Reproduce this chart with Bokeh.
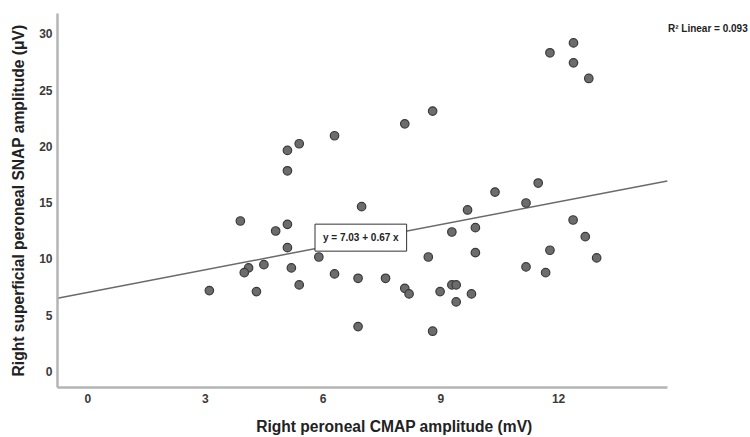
from bokeh.plotting import figure
from bokeh.models import Range1d, Label, FixedTicker
from bokeh.embed import file_html
from bokeh.resources import INLINE

# Data
cmap_mV = [6.29, 5.39, 5.09, 5.09, 6.98, 3.89, 5.09, 4.79, 5.09,
           5.89, 4.10, 3.99, 4.49, 5.19, 6.29, 6.89, 7.59, 3.10, 4.30, 5.39, 6.89,
           8.08, 8.79, 11.48, 10.38, 11.17, 9.68, 12.37, 12.68, 9.28, 9.88,
           8.68, 9.88, 11.78, 12.97, 11.17, 11.67, 8.08, 8.19, 8.98, 9.28, 9.39,
           9.39, 9.78, 8.79,
           12.38, 11.78, 12.38, 12.77]
snap_uV = [20.94, 20.23, 19.64, 17.83, 14.64, 13.37, 13.07, 12.48, 11.00,
           10.17, 9.20, 8.78, 9.49, 9.20, 8.67, 8.28, 8.28, 7.19, 7.10, 7.69, 3.99,
           22.00, 23.13, 16.74, 15.94, 14.97, 14.35, 13.46, 11.98, 12.39, 12.78,
           10.17, 10.56, 10.77, 10.09, 9.29, 8.78, 7.39, 6.89, 7.10, 7.69, 7.69,
           6.18, 6.89, 3.58,
           29.19, 28.31, 27.42, 26.03]

fit_intercept = 7.03
fit_slope = 0.67
r2_linear = 0.093

x_ticks = [0, 3, 6, 9, 12]
y_ticks = [0, 5, 10, 15, 20, 25, 30]

x_label = "Right peroneal CMAP amplitude (mV)"
y_label = "Right superficial peroneal SNAP amplitude (μV)"

x_start, x_axis_end, x_end = -0.77, 14.77, 16.84
y_start, y_end = -1.42, 31.8

p = figure(width=750, height=437, output_backend="svg", toolbar_location=None,
           x_range=Range1d(x_start, x_end), y_range=Range1d(y_start, y_end),
           min_border_left=57, min_border_right=2, min_border_top=13,
           min_border_bottom=50)
p.background_fill_color = "white"
p.border_fill_color = "white"
p.outline_line_color = None
p.grid.visible = False

font = "Liberation Sans"
for ax in (p.xaxis[0], p.yaxis[0]):
    ax.axis_line_color = "#b4b4b4"
    ax.axis_line_width = 2.5
    ax.major_tick_line_color = None
    ax.minor_tick_line_color = None
    ax.major_tick_out = 0
    ax.major_tick_in = 0
    ax.minor_tick_out = 0
    ax.major_label_text_font = font
    ax.major_label_text_font_style = "bold"
    ax.major_label_text_font_size = "12px"
    ax.major_label_text_color = "#3a3a3a"
    ax.axis_label_text_font = font
    ax.axis_label_text_font_style = "bold"
    ax.axis_label_text_font_size = "15.6px"
    ax.axis_label_text_color = "#222222"

p.xaxis.bounds = (x_start, x_axis_end)
p.xaxis.ticker = FixedTicker(ticks=x_ticks)
p.yaxis.ticker = FixedTicker(ticks=y_ticks)
# trailing no-break spaces nudge the centred title slightly left, as in the original
p.xaxis.axis_label = x_label + "\u00a0" * 4
p.yaxis.axis_label = y_label
p.xaxis.major_label_standoff = 6
p.xaxis.axis_label_standoff = 12
p.yaxis.major_label_standoff = 5
p.yaxis.axis_label_standoff = 9

# regression line from the fit coefficients
fx = [x_start, x_axis_end]
fy = [fit_intercept + fit_slope * v for v in fx]
p.line(fx, fy, line_color="#6a6a6a", line_width=1.5)

p.scatter(cmap_mV, snap_uV, size=8.5, fill_color="#6c6c6c",
          line_color="#3a3a3a", line_width=1.2)

eq = Label(x=6.96, y=11.89, text=f"y = {fit_intercept:.2f} + {fit_slope:.2f} x",
           text_align="center", text_baseline="middle",
           text_font=font, text_font_style="bold", text_font_size="10px",
           text_color="#222222", background_fill_color="white",
           border_line_color="#333333", border_line_width=1, padding=8)
p.add_layout(eq)

r2 = Label(x=16.82, y=30.43, text=f"R² Linear = {r2_linear:.3f}",
           text_align="right", text_baseline="middle",
           text_font=font, text_font_style="bold", text_font_size="10px",
           text_color="#222222")
p.add_layout(r2)

open("out.html", "w").write(file_html(p, INLINE))
